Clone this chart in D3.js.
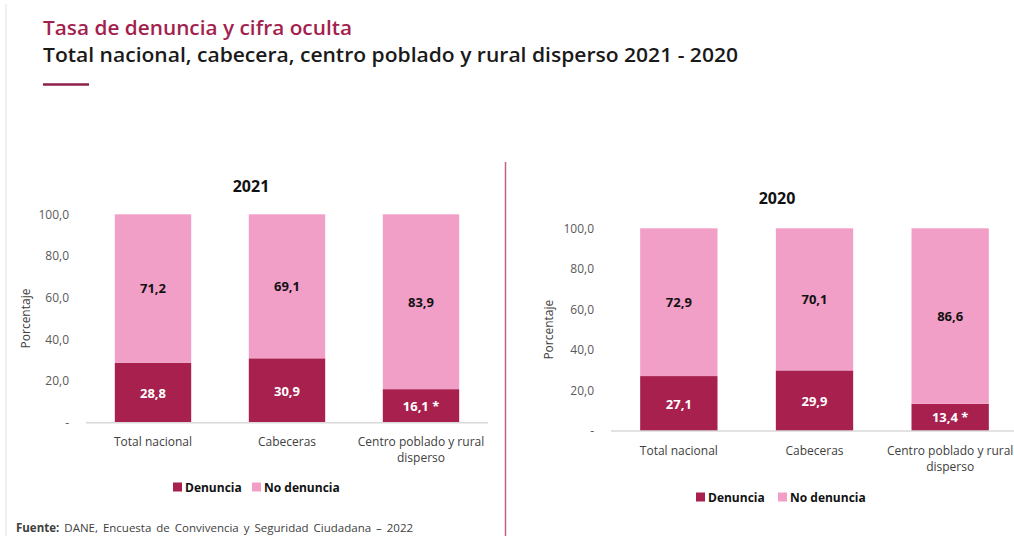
<!DOCTYPE html>
<html>
<head>
<meta charset="utf-8">
<script src="https://cdn.jsdelivr.net/npm/d3@7"></script>
<style>
body { margin: 0; background: #fff; }
svg { font-family: "Open Sans", "Noto Sans", sans-serif; }
</style>
</head>
<body>
<svg width="1014" height="536"></svg>
<script>
var categories = ["Total nacional", "Cabeceras", "Centro poblado y rural disperso"];
var denuncia2021 = [28.8, 30.9, 16.1];
var noDenuncia2021 = [71.2, 69.1, 83.9];
var denuncia2020 = [27.1, 29.9, 13.4];
var noDenuncia2020 = [72.9, 70.1, 86.6];
var flagged = [false, false, true];
var yTicks = [0, 20, 40, 60, 80, 100];
var seriesNames = ["Denuncia", "No denuncia"];

var dark = "#a8204e";
var pink = "#f29fc8";

var svg = d3.select("svg");

// faint page border on the left
svg.append("line").attr("x1", 6).attr("x2", 6).attr("y1", 4).attr("y2", 536)
  .attr("stroke", "#f0f0f0").attr("stroke-width", 2);

svg.append("text").attr("x", 43).attr("y", 35)
  .attr("font-size", 19).attr("font-weight", 600).attr("fill", "#a31f4f")
  .attr("textLength", 309).attr("lengthAdjust", "spacingAndGlyphs")
  .text("Tasa de denuncia y cifra oculta");
svg.append("text").attr("x", 43).attr("y", 62)
  .attr("font-size", 20).attr("font-weight", 600).attr("fill", "#1a1a1a")
  .attr("textLength", 695).attr("lengthAdjust", "spacingAndGlyphs")
  .text("Total nacional, cabecera, centro poblado y rural disperso 2021 - 2020");
svg.append("line").attr("x1", 43).attr("x2", 89).attr("y1", 84.5).attr("y2", 84.5)
  .attr("stroke", "#8e1f4a").attr("stroke-width", 2.5);

// divider
svg.append("line").attr("x1", 505.5).attr("x2", 505.5).attr("y1", 162).attr("y2", 536)
  .attr("stroke", "#c45f86").attr("stroke-width", 1.5);

var fmt = function(v) { return v === 0 ? "-" : d3.format(".1f")(v).replace(".", ","); };

function drawChart(opt) {
  var g = svg.append("g");
  var x = d3.scaleBand().domain(categories).range([opt.x0, opt.x1])
    .paddingInner(0.43).paddingOuter(0.215);
  var y = d3.scaleLinear().domain([0, 100]).range([opt.yBottom, opt.yTop]);

  var rows = categories.map(function(c, i) {
    return { cat: c, den: opt.den[i], no: opt.no[i], flag: flagged[i] };
  });

  g.append("text").attr("x", opt.titleX).attr("y", opt.titleY)
    .attr("text-anchor", "middle").attr("dominant-baseline", "central")
    .attr("font-size", 16).attr("font-weight", 700).attr("fill", "#111")
    .text(opt.title);

  var yAxis = d3.axisLeft(y).tickValues(yTicks).tickSize(0).tickPadding(0)
    .tickFormat(fmt);
  var ya = g.append("g").attr("transform", "translate(" + opt.tickX + ",0)").call(yAxis);
  ya.select(".domain").remove();
  ya.selectAll("text").attr("font-size", 12).attr("fill", "#595959")
    .attr("font-family", "'Open Sans', sans-serif");

  g.append("text")
    .attr("transform", "translate(" + opt.labelX + "," + ((opt.yTop + opt.yBottom) / 2) + ") rotate(-90)")
    .attr("text-anchor", "middle").attr("dominant-baseline", "central")
    .attr("font-size", 12).attr("fill", "#404040").text("Porcentaje");

  g.selectAll("rect.den").data(rows).enter().append("rect")
    .attr("x", function(d) { return x(d.cat); })
    .attr("width", x.bandwidth())
    .attr("y", function(d) { return y(d.den); })
    .attr("height", function(d) { return y(0) - y(d.den); })
    .attr("fill", dark);
  g.selectAll("rect.no").data(rows).enter().append("rect")
    .attr("x", function(d) { return x(d.cat); })
    .attr("width", x.bandwidth())
    .attr("y", function(d) { return y(d.den + d.no); })
    .attr("height", function(d) { return y(d.den) - y(d.den + d.no); })
    .attr("fill", pink);

  g.selectAll("text.vden").data(rows).enter().append("text")
    .attr("x", function(d) { return x(d.cat) + x.bandwidth() / 2; })
    .attr("y", function(d) { return y(d.den / 2); })
    .attr("text-anchor", "middle").attr("dominant-baseline", "central")
    .attr("font-size", 13).attr("font-weight", 700).attr("fill", "#fff")
    .text(function(d) { return fmt(d.den) + (d.flag ? " *" : ""); });
  g.selectAll("text.vno").data(rows).enter().append("text")
    .attr("x", function(d) { return x(d.cat) + x.bandwidth() / 2; })
    .attr("y", function(d) { return y(d.den + d.no / 2); })
    .attr("text-anchor", "middle").attr("dominant-baseline", "central")
    .attr("font-size", 13).attr("font-weight", 700).attr("fill", "#111")
    .text(function(d) { return fmt(d.no); });

  var xAxis = d3.axisBottom(x).tickSize(0).tickPadding(0);
  var xa = g.append("g").attr("transform", "translate(0," + opt.yBottom + ")").call(xAxis);
  xa.select(".domain").attr("stroke", "#d9d9d9").attr("stroke-width", 1.5)
    .attr("d", "M" + opt.x0 + ",0H" + opt.axisEnd);
  xa.selectAll(".tick text").remove();
  xa.selectAll(".tick").each(function(c) {
    var lines = c === categories[2] ? ["Centro poblado y rural", "disperso"] : [c];
    var t = d3.select(this).append("text").attr("fill", "#404040")
      .attr("font-size", 12).attr("text-anchor", "middle")
      .attr("font-family", "'Open Sans', sans-serif");
    lines.forEach(function(l, i) {
      t.append("tspan").attr("x", 0).attr("y", 23.5 + i * 16).text(l);
    });
  });

  // legend
  var lg = g.append("g");
  var colors = [dark, pink];
  opt.legend.forEach(function(lx, i) {
    lg.append("rect").attr("x", lx).attr("y", opt.legendY - 4.5).attr("width", 9).attr("height", 9)
      .attr("fill", colors[i]);
    lg.append("text").attr("x", lx + 12).attr("y", opt.legendY).attr("dominant-baseline", "central")
      .attr("font-size", 12).attr("font-weight", 700).attr("fill", "#111").text(seriesNames[i]);
  });
}

drawChart({
  title: "2021", titleX: 251, titleY: 186,
  den: denuncia2021, no: noDenuncia2021,
  x0: 86, x1: 488, axisEnd: 488, yTop: 214.3, yBottom: 422.7,
  tickX: 69, labelX: 25, legendY: 487, legend: [173, 252]
});
drawChart({
  title: "2020", titleX: 777, titleY: 198,
  den: denuncia2020, no: noDenuncia2020,
  x0: 611, x1: 1018, axisEnd: 1014, yTop: 228.3, yBottom: 431,
  tickX: 594, labelX: 548, legendY: 497, legend: [696, 778]
});

svg.append("text").attr("x", 16).attr("y", 532)
  .attr("font-size", 11.5).attr("fill", "#404040")
  .call(function(t) {
    t.append("tspan").attr("font-weight", 700).text("Fuente:");
    t.append("tspan").attr("word-spacing", 2).text(" DANE, Encuesta de Convivencia y Seguridad Ciudadana \u2013 2022");
  });
</script>
</body>
</html>
